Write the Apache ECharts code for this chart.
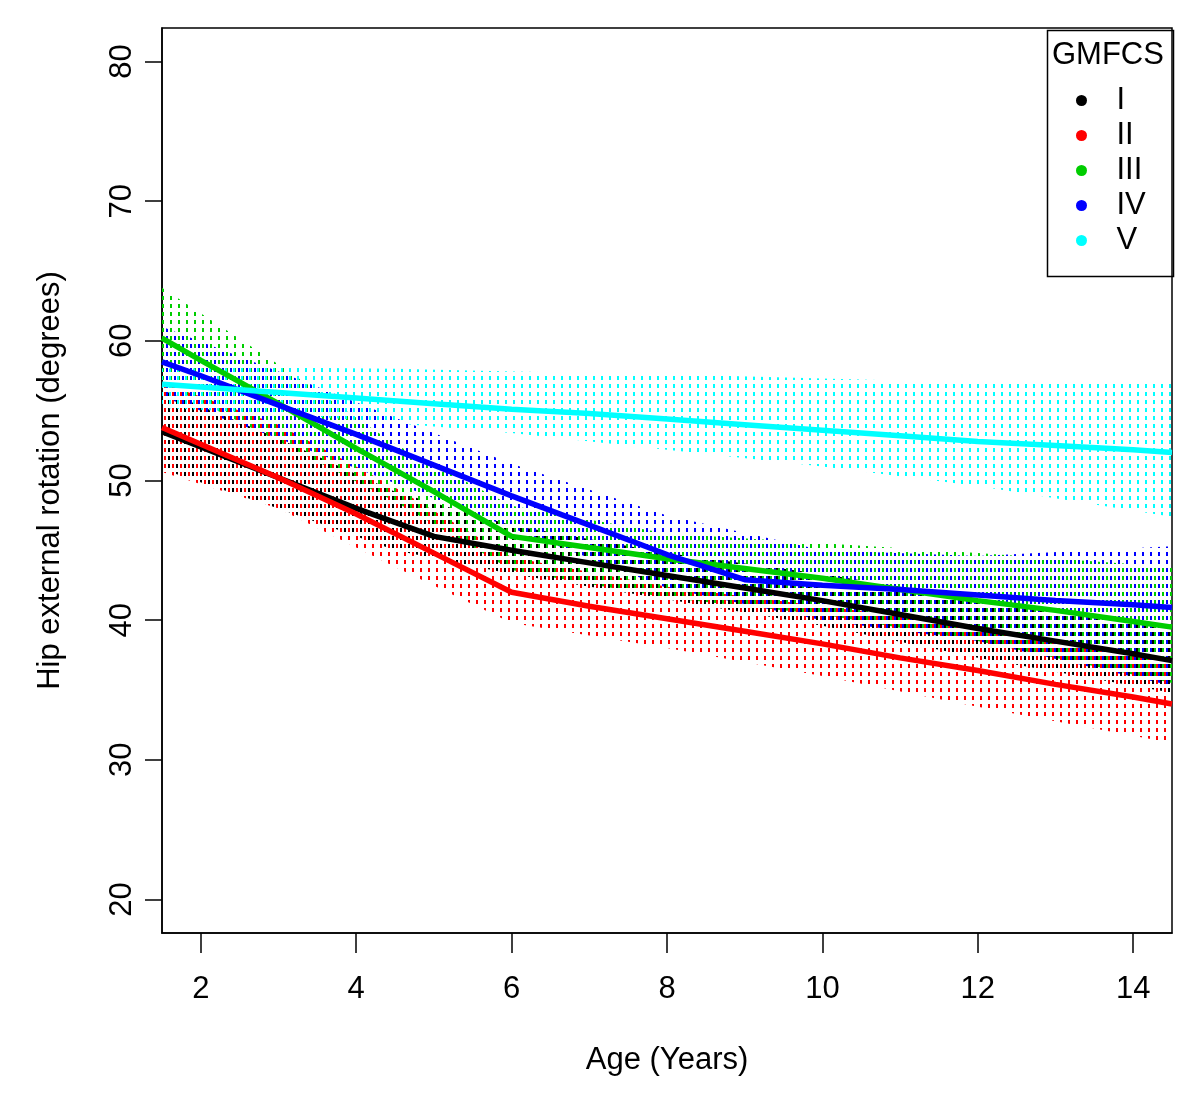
<!DOCTYPE html>
<html><head><meta charset="utf-8">
<script src="https://cdn.jsdelivr.net/npm/echarts@6/dist/echarts.min.js"></script>
<style>html,body{margin:0;padding:0;background:#fff}#c{width:1200px;height:1105px}</style>
</head><body><div id="c"></div>
<script>
// ---- data ----
const groups = ['I', 'II', 'III', 'IV', 'V'];
const colors = ['#000000', '#FF0000', '#00CD00', '#0000FF', '#00FFFF'];
const lineAges = [1.5, 2, 3, 4, 5, 6, 7, 8, 9, 10, 11, 12, 13, 14, 14.5];
const lineI   = [53.5, 52.4, 50.2, 48.0, 46.0, 45.0, 44.1, 43.2, 42.3, 41.4, 40.4, 39.4, 38.5, 37.6, 37.1];
const lineII  = [53.8, 52.6, 50.2, 47.6, 44.8, 42.0, 41.0, 40.1, 39.2, 38.3, 37.3, 36.4, 35.4, 34.5, 34.0];
const lineIII = [60.2, 58.6, 55.5, 52.3, 49.2, 46.0, 45.2, 44.4, 43.7, 43.0, 42.2, 41.4, 40.7, 39.9, 39.5];
const lineIV  = [58.5, 57.5, 55.4, 53.3, 51.1, 48.9, 46.8, 44.7, 42.9, 42.5, 42.2, 41.8, 41.4, 41.1, 40.9];
const lineV   = [56.9, 56.7, 56.3, 55.9, 55.5, 55.1, 54.8, 54.4, 54.0, 53.6, 53.2, 52.8, 52.5, 52.2, 52.0];

const bandAges = [1.5, 3, 4.5, 6, 8, 10, 12, 14.5];
const upperI   = [56.5, 53.0, 49.2, 46.8, 44.8, 43.3, 41.5, 39.5];
const lowerI   = [50.8, 48.0, 45.0, 43.3, 41.5, 39.6, 37.3, 34.8];
const upperII  = [57.0, 54.0, 49.5, 44.5, 42.4, 41.0, 39.6, 37.2];
const lowerII  = [50.6, 48.0, 43.8, 39.8, 38.0, 36.0, 33.8, 31.2];
const upperIII = [63.8, 58.3, 52.6, 48.2, 46.2, 45.5, 44.8, 43.8];
const lowerIII = [57.0, 52.8, 48.5, 43.6, 41.6, 40.4, 38.5, 35.5];
const upperIV  = [61.0, 57.8, 54.5, 51.2, 47.5, 45.0, 44.6, 45.3];
const lowerIV  = [56.0, 53.0, 49.8, 46.6, 42.3, 40.0, 38.5, 35.3];
const upperV   = [58.0, 58.1, 58.0, 57.8, 57.6, 57.3, 57.0, 57.0];
const lowerV   = [55.2, 54.8, 54.1, 53.4, 52.2, 51.0, 49.6, 47.4];

const xTicks = [2, 4, 6, 8, 10, 12, 14];
const yTicks = [20, 30, 40, 50, 60, 70, 80];

const lines = [lineI, lineII, lineIII, lineIV, lineV];
const uppers = [upperI, upperII, upperIII, upperIV, upperV];
const lowers = [lowerI, lowerII, lowerIII, lowerIV, lowerV];
const patOffsets = [0, 4, 2, 6, 1];

const FONT = '"Liberation Sans", Arial, sans-serif';
const FS = 31;

function makePattern(color, off) {
  const c = document.createElement('canvas');
  c.width = 8; c.height = 8;
  const g = c.getContext('2d');
  g.fillStyle = color;
  g.fillRect(off, 0, 2, 4);
  return c;
}

const series = [];
groups.forEach((name, k) => {
  const up = uppers[k], lo = lowers[k];
  const pat = makePattern(colors[k], patOffsets[k]);
  series.push({
    type: 'custom',
    name: name + ' band',
    silent: true,
    data: bandAges.map((a, i) => [a, lo[i], up[i]]),
    encode: { x: 0, y: [1, 2] },
    renderItem: (params, api) => {
      if (params.dataIndex !== 0) return null;
      const pts = [];
      for (let i = 0; i < bandAges.length; i++) pts.push(api.coord([bandAges[i], up[i]]));
      for (let i = bandAges.length - 1; i >= 0; i--) pts.push(api.coord([bandAges[i], lo[i]]));
      return { type: 'polygon', shape: { points: pts }, style: { fill: { image: pat, repeat: 'repeat' } } };
    }
  });
  series.push({
    type: 'line',
    name: name,
    data: lineAges.map((a, i) => [a, lines[k][i]]),
    showSymbol: false,
    symbol: 'circle',
    color: colors[k],
    lineStyle: { width: 5.5, color: colors[k] },
    itemStyle: { color: colors[k] }
  });
});

const chart = echarts.init(document.getElementById('c'), null, { renderer: 'canvas' });
chart.setOption({
  animation: false,
  backgroundColor: '#ffffff',
  grid: { left: 162, top: 28, right: 28, bottom: 172, show: true, borderColor: '#000', borderWidth: 1.5, containLabel: false },
  xAxis: {
    type: 'value', min: 1.5, max: 14.5,
    name: 'Age (Years)', nameLocation: 'middle', nameGap: 112,
    nameTextStyle: { fontFamily: FONT, fontSize: FS, color: '#000' },
    axisLine: { show: true, onZero: false, lineStyle: { color: '#000', width: 1.5 } },
    axisTick: { show: true, length: 20, customValues: xTicks, lineStyle: { color: '#000', width: 1.5 } },
    axisLabel: { customValues: xTicks, margin: 41, fontFamily: FONT, fontSize: FS, color: '#000' },
    splitLine: { show: false }
  },
  yAxis: {
    type: 'value', min: 17.6, max: 82.4,
    name: 'Hip external rotation (degrees)', nameLocation: 'middle', nameGap: 96, nameRotate: 90,
    nameTextStyle: { fontFamily: FONT, fontSize: FS, color: '#000' },
    axisLine: { show: true, onZero: false, lineStyle: { color: '#000', width: 1.5 } },
    axisTick: { show: true, length: 17, customValues: yTicks, lineStyle: { color: '#000', width: 1.5 } },
    axisLabel: { customValues: yTicks, rotate: 90, margin: 24, fontFamily: FONT, fontSize: FS, color: '#000' },
    splitLine: { show: false }
  },
  legend: {
    data: groups, orient: 'vertical', left: 1071, top: 80,
    icon: 'circle', itemWidth: 60, itemHeight: 11, itemGap: 4,
    selectedMode: false,
    textStyle: { fontFamily: FONT, fontSize: FS, lineHeight: 30, color: '#000' }
  },
  graphic: [
    { type: 'rect', left: 1045, top: 28, z: 50, silent: true,
      shape: { width: 126, height: 246 }, style: { fill: null, stroke: '#000', lineWidth: 1.5 } },
    { type: 'text', left: 1052, top: 40, z: 51, silent: true,
      style: { text: 'GMFCS', font: FS + 'px ' + FONT, fill: '#000' } }
  ],
  series: series
});
</script>
</body></html>
